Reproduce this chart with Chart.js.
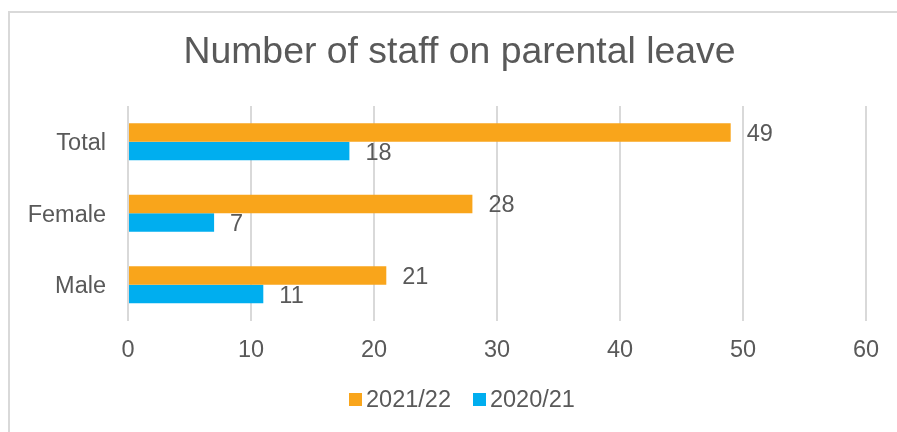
<!DOCTYPE html>
<html>
<head>
<meta charset="utf-8">
<script src="https://cdn.jsdelivr.net/npm/chart.js@4"></script>
<style>
  body { margin: 0; background: #fff; }
  #wrap { position: relative; width: 897px; height: 432px; overflow: hidden; }
  #frame { position: absolute; left: 8px; top: 11px; width: 1000px; height: 1000px;
           border-left: 2px solid #d9d9d9; border-top: 2px solid #d9d9d9; }
  #staffChart { position: absolute; left: 0; top: 0; }
  #legend { position: absolute; left: 349px; top: 386px; display: flex; align-items: center;
            font: 23.5px "Liberation Sans", Arial, sans-serif; color: #595959; }
  #legend span.box { display: inline-block; width: 13px; height: 13px; margin-right: 4px; }
  #legend .item { display: flex; align-items: center; margin-right: 22px; }
</style>
</head>
<body>
<div id="wrap">
  <div id="frame"></div>
  <canvas id="staffChart" width="897" height="432"></canvas>
  <div id="legend"></div>
</div>
<script>
// Chart data
const categories = ["Total", "Female", "Male"];
const leave2122 = [49, 28, 21];
const leave2021 = [18, 7, 11];
const xTicks = [0, 10, 20, 30, 40, 50, 60];
const chartTitle = "Number of staff on parental leave";

const textColor = "#595959";
const fontFamily = "'Liberation Sans', Arial, sans-serif";

// Value labels at the end of each bar
const barLabels = {
  id: "barLabels",
  afterDatasetsDraw(chart) {
    const ctx = chart.ctx;
    ctx.save();
    ctx.font = "23.5px " + fontFamily;
    ctx.fillStyle = textColor;
    ctx.textAlign = "left";
    ctx.textBaseline = "middle";
    chart.data.datasets.forEach((ds, i) => {
      chart.getDatasetMeta(i).data.forEach((bar, j) => {
        ctx.fillText(ds.data[j], bar.x + 16, bar.y + 2);
      });
    });
    ctx.restore();
  }
};

// Title centred on the chart frame (which starts at x=8), not on the canvas
const frameTitle = {
  id: "frameTitle",
  afterDraw(chart) {
    const ctx = chart.ctx;
    ctx.save();
    ctx.font = "37.4px " + fontFamily;
    ctx.fillStyle = textColor;
    ctx.textAlign = "center";
    ctx.textBaseline = "middle";
    ctx.fillText(chartTitle, 459.5, 52.2);
    ctx.restore();
  }
};

const ctx = document.getElementById("staffChart").getContext("2d");
const staffChart = new Chart(ctx, {
  type: "bar",
  data: {
    labels: categories,
    datasets: [
      { label: "2021/22", data: leave2122, backgroundColor: "#F9A51B" },
      { label: "2020/21", data: leave2021, backgroundColor: "#00AEEF" }
    ]
  },
  options: {
    indexAxis: "y",
    responsive: false,
    animation: false,
    categoryPercentage: 0.52,
    barPercentage: 1,
    layout: { padding: { left: 28, right: 31, top: 106, bottom: 65.5 } },
    plugins: {
      legend: { display: false },
      tooltip: { enabled: false },
      title: { display: false }
    },
    scales: {
      x: {
        min: 0,
        max: 60,
        afterBuildTicks: axis => { axis.ticks = xTicks.map(v => ({ value: v })); },
        afterFit: axis => { axis.height = 46; },
        grid: { color: "#d9d9d9", lineWidth: 2, drawTicks: false },
        border: { display: false },
        ticks: {
          color: textColor,
          padding: 15.5,
          font: { family: fontFamily, size: 23.5 }
        }
      },
      y: {
        afterFit: axis => { axis.width = 100; },
        grid: { display: false, drawTicks: false },
        border: { display: false },
        ticks: {
          color: textColor,
          padding: 22,
          labelOffset: 2,
          font: { family: fontFamily, size: 23.5 }
        }
      }
    }
  },
  plugins: [barLabels, frameTitle]
});

// Legend as html, built from the datasets
const legend = document.getElementById("legend");
staffChart.data.datasets.forEach(ds => {
  const item = document.createElement("div");
  item.className = "item";
  item.innerHTML = '<span class="box" style="background:' + ds.backgroundColor + '"></span>' + ds.label;
  legend.appendChild(item);
});
</script>
</body>
</html>
